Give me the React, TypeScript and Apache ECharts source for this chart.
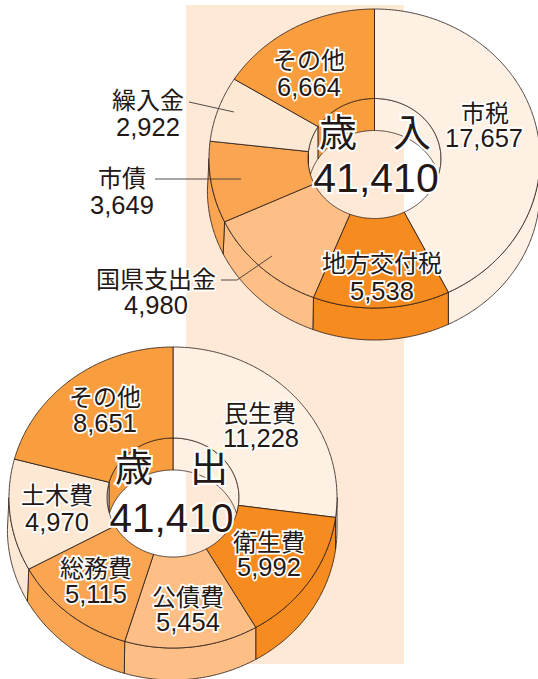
import React, { useEffect, useRef } from "react";
import * as echarts from "echarts";

// ---- data ----
const revenueCategories = ["市税", "地方交付税", "国県支出金", "市債", "繰入金", "その他"];
const revenueValues = [17657, 5538, 4980, 3649, 2922, 6664];
const revenueColors = ["#FEF0E2", "#F68B1F", "#FDBF85", "#F9A551", "#FDE8D3", "#F99E3E"];
const expenseCategories = ["民生費", "衛生費", "公債費", "総務費", "土木費", "その他"];
const expenseValues = [11228, 5992, 5454, 5115, 4970, 8651];
const expenseColors = ["#FEF0E2", "#F68B1F", "#FDBF85", "#F9A551", "#FDE8D3", "#F99E3E"];
const totalLabel = "41,410";

// ---- layout (not data) ----
const INK = "#231815";
const SANS = '"Liberation Sans","Noto Sans CJK JP",sans-serif';
const revenueGeom = { cx: 374.5, cy: 158.5, rx: 165.5, ry: 149.5, irx: 66.5, iry: 60, d: 32 };
const expenseGeom = { cx: 173, cy: 497.5, rx: 164, ry: 150.5, irx: 66, iry: 59.5, d: 32 };
const WALL_BULGE_LEFT = 1.6;
// [name x, name y, value x, value y]
const revenueLabelAt = [
  [485, 113, 484, 138],
  [382, 263, 382, 291],
  [156, 279, 156, 305],
  [122, 178, 122, 205],
  [148, 100, 148, 127],
  [309, 60, 309, 87],
];
const expenseLabelAt = [
  [260, 413, 261, 438],
  [269, 542, 269, 567],
  [188, 597, 188, 622],
  [96, 568, 96, 594],
  [57, 495, 57, 522],
  [105, 397, 105, 423],
];

const rad = (deg: number) => (deg * Math.PI) / 180;
const arcPoint = (cx: number, cy: number, rx: number, ry: number, deg: number) => [
  cx + rx * Math.sin(rad(deg)),
  cy - ry * Math.cos(rad(deg)),
];
const samples = (a0: number, a1: number) => {
  const out: number[] = [];
  const n = Math.max(1, Math.ceil((a1 - a0) / 0.5));
  for (let i = 0; i <= n; i++) out.push(a0 + ((a1 - a0) * i) / n);
  return out;
};

function donutSeries(
  name: string,
  categories: string[],
  values: number[],
  colors: string[],
  g: typeof revenueGeom,
  labelAt: number[][]
) {
  const total = values.reduce((s, v) => s + v, 0);
  const starts: number[] = [];
  values.reduce((s, v, i) => ((starts[i] = s), s + v), 0);
  const line = { stroke: INK, lineWidth: 0.8, lineJoin: "round" };

  const outerWall = (a0: number, a1: number, fill: string) => {
    const lo = Math.max(a0, 90);
    const hi = Math.min(a1, 270);
    if (hi <= lo) return [];
    const s = samples(lo, hi);
    const top = s.map((t) => arcPoint(g.cx, g.cy, g.rx, g.ry, t));
    const bottom = s
      .map((t) => arcPoint(g.cx, g.cy + g.d, t > 180 ? g.rx + WALL_BULGE_LEFT : g.rx, g.ry, t))
      .reverse();
    return [{ type: "polygon", z2: 1, shape: { points: [...top, ...bottom] }, style: { fill, ...line } }];
  };

  const innerWallPiece = (lo: number, hi: number, fill: string) => {
    if (hi <= lo) return [];
    const tMin = (Math.acos(g.d / (2 * g.iry)) * 180) / Math.PI;
    const s = samples(lo, hi);
    const top = s.map((t) => arcPoint(g.cx, g.cy, g.irx, g.iry, t));
    const bottom = s
      .map((t) => {
        const abs = Math.abs(t);
        if (abs <= tMin) return arcPoint(g.cx, g.cy + g.d, g.irx, g.iry, t);
        return arcPoint(g.cx, g.cy, g.irx, g.iry, Math.sign(t) * (180 - abs));
      })
      .reverse();
    return [{ type: "polygon", z2: 1, shape: { points: [...top, ...bottom] }, style: { fill, ...line } }];
  };

  return {
    type: "custom",
    name,
    coordinateSystem: "none",
    silent: true,
    data: values.map((value, i) => ({ name: categories[i], value })),
    renderItem: (params: any, api: any) => {
      const i = params.dataIndex;
      const value = api.value(0);
      const a0 = (starts[i] / total) * 360;
      const a1 = a0 + (value / total) * 360;
      const s = samples(a0, a1);
      const fill = colors[i];
      const outer = s.map((t) => arcPoint(g.cx, g.cy, g.rx, g.ry, t));
      const inner = s.map((t) => arcPoint(g.cx, g.cy, g.irx, g.iry, t)).reverse();
      const text = (str: string, x: number, y: number, size: number) => ({
        type: "text",
        z2: 10,
        style: {
          text: str,
          x,
          y,
          textAlign: "center",
          textVerticalAlign: "middle",
          verticalAlign: "middle",
          font: `${size}px ${SANS}`,
          fill: INK,
          stroke: "#fff",
          lineWidth: 3.5,
        },
      });
      const [nx, ny, vx, vy] = labelAt[i];
      return {
        type: "group",
        children: [
          ...outerWall(a0, a1, fill),
          ...innerWallPiece(Math.max(a0, 0), Math.min(a1, 90), fill),
          ...innerWallPiece(Math.max(a0, 270) - 360, Math.min(a1, 360) - 360, fill),
          { type: "polygon", z2: 2, shape: { points: [...outer, ...inner] }, style: { fill, ...line } },
          text(categories[i], nx, ny, 24),
          text(value.toLocaleString("en-US"), vx, vy, 25.5),
        ],
      };
    },
  };
}

const centerText = (text: string, x: number, y: number, size: number) => ({
  type: "text",
  z: 60,
  style: {
    text,
    x,
    y,
    textAlign: "center",
    textVerticalAlign: "middle",
    verticalAlign: "middle",
    font: `${size}px ${SANS}`,
    fill: INK,
    stroke: "#fff",
    lineWidth: 4,
  },
});
const leader = (points: number[][]) => ({
  type: "polyline",
  z: 50,
  shape: { points },
  style: { stroke: "#3E3A39", lineWidth: 0.9, fill: "none" },
});

export default function App() {
  const ref = useRef<HTMLDivElement>(null);
  useEffect(() => {
    const chart = echarts.init(ref.current!, null, { renderer: "svg" });
    chart.setOption({
      animation: false,
      graphic: [
        { type: "rect", z: -10, shape: { x: 186, y: 5, width: 218, height: 659 }, style: { fill: "#FEE8D6" } },
        leader([[189, 102], [234, 112]]),
        leader([[155, 179], [241, 179]]),
        leader([[221, 280], [237, 280], [272, 256]]),
        centerText("歳", 338, 133, 38),
        centerText("入", 412, 133, 38),
        centerText(totalLabel, 376, 178, 41),
        centerText("歳", 134, 468, 38),
        centerText("出", 209, 468, 38),
        centerText(totalLabel, 171.5, 518, 40.5),
      ],
      series: [
        donutSeries("歳入", revenueCategories, revenueValues, revenueColors, revenueGeom, revenueLabelAt),
        donutSeries("歳出", expenseCategories, expenseValues, expenseColors, expenseGeom, expenseLabelAt),
      ],
    });
    return () => chart.dispose();
  }, []);
  return (
    <div
      ref={ref}
      style={{ position: "absolute", left: 0, top: 0, width: 538, height: 679, background: "#fff" }}
    />
  );
}
